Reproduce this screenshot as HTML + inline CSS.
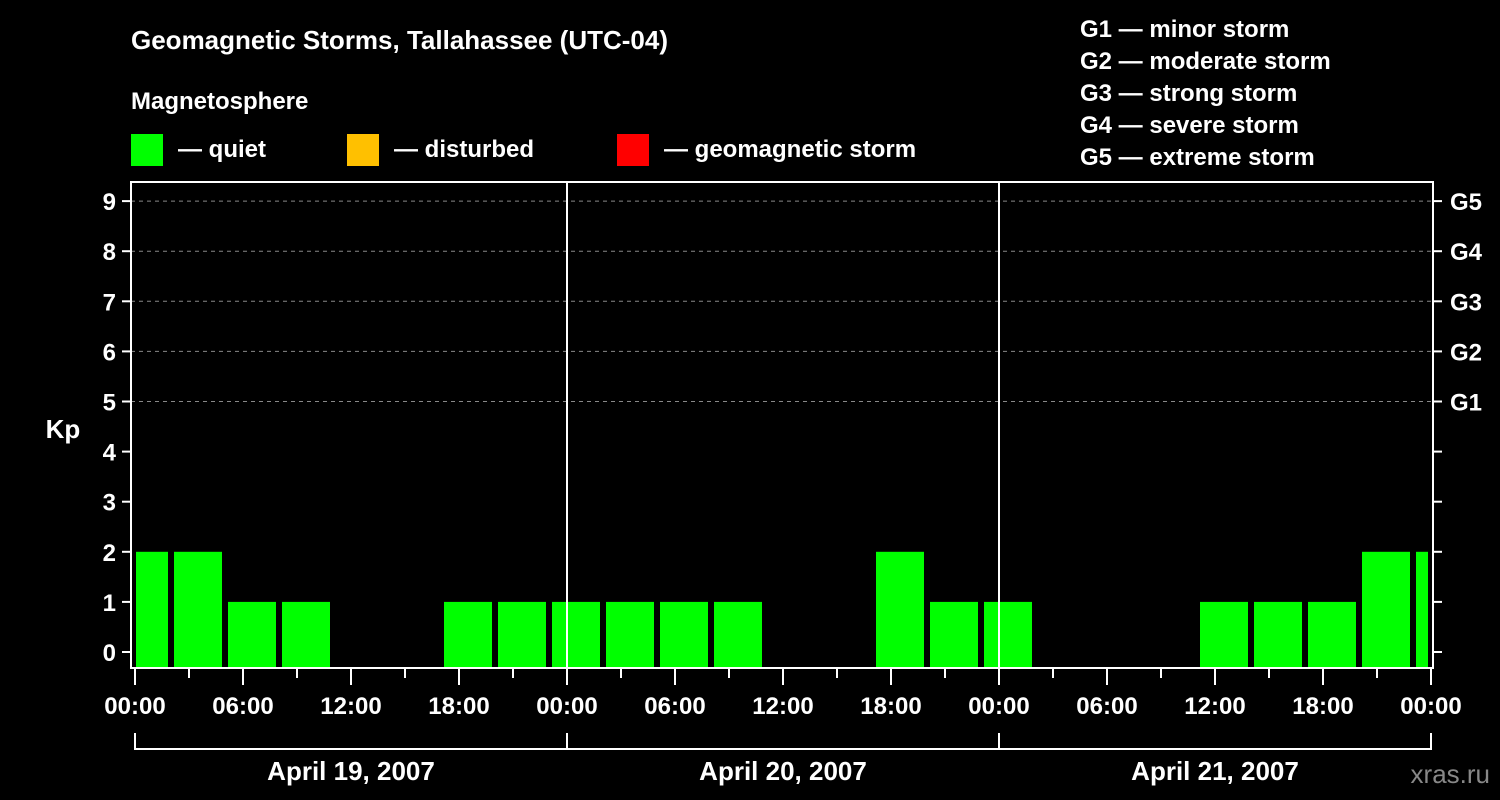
<!DOCTYPE html>
<html><head><meta charset="utf-8"><style>
html,body{margin:0;padding:0;background:#000;}
svg{display:block;font-family:"Liberation Sans",Arial,sans-serif;font-weight:bold;}
</style></head><body>
<svg id="c" width="1500" height="800" viewBox="0 0 1500 800">
<rect width="1500" height="800" fill="#000"/>
<text x="131" y="49" fill="#fff" font-size="26">Geomagnetic Storms, Tallahassee (UTC-04)</text>
<text x="131" y="109" fill="#fff" font-size="24">Magnetosphere</text>
<g><rect x="131" y="134" width="32" height="32" fill="#00ff00"/><text x="178" y="157" fill="#fff" font-size="24">— quiet</text></g>
<g><rect x="347" y="134" width="32" height="32" fill="#ffc000"/><text x="394" y="157" fill="#fff" font-size="24">— disturbed</text></g>
<g><rect x="617" y="134" width="32" height="32" fill="#ff0000"/><text x="664" y="157" fill="#fff" font-size="24">— geomagnetic storm</text></g>
<g fill="#fff" font-size="24">
<text x="1080" y="37">G1 — minor storm</text>
<text x="1080" y="69">G2 — moderate storm</text>
<text x="1080" y="101">G3 — strong storm</text>
<text x="1080" y="133">G4 — severe storm</text>
<text x="1080" y="165">G5 — extreme storm</text>
</g>
<text x="63" y="438" fill="#fff" font-size="26" text-anchor="middle">Kp</text>
<text x="1490" y="783" fill="#888" font-size="26" text-anchor="end" font-weight="normal">xras.ru</text>
<g id="plot"></g>
</svg>
<script>
const kpValues=[2,2,1,1,0,0,1,1,1,1,1,1,0,0,2,1,1,0,0,0,1,1,1,2,2];
const yTicks=[0,1,2,3,4,5,6,7,8,9];
const gLabels=["G1","G2","G3","G4","G5"];
const gLevels=[5,6,7,8,9];
const hourLabels=["00:00","06:00","12:00","18:00"];
const dayLabels=["April 19, 2007","April 20, 2007","April 21, 2007"];
const firstSlotHour=-1; // local hour of first 3h slot start
const NS="http://www.w3.org/2000/svg";
const L=131,R=1433,T=182,B=668,X0=135,DAY=432;
const x=h=>X0+h*DAY/24;
const y=v=>652-v*50.1;
const g=document.getElementById('plot');
function mk(t,a){const e=document.createElementNS(NS,t);for(const k in a)e.setAttribute(k,a[k]);g.appendChild(e);return e;}
// gridlines
gLevels.forEach(v=>{const e=mk('line',{x1:L,x2:R,y1:y(v),y2:y(v),stroke:'#888','stroke-dasharray':'4,4','stroke-width':1});

});
// bars
kpValues.forEach((v,i)=>{if(v<=0)return;const h0=firstSlotHour+i*3;let x1=x(h0)+3,x2=x(h0+3)-3;x1=Math.max(x1,L+5);x2=Math.min(x2,R-5);if(x2<=x1)return;
const col=v>=5?'#ff0000':(v>=4?'#ffc000':'#00ff00');
const e=mk('rect',{x:x1,y:y(v),width:x2-x1,height:B-y(v),fill:col});

});
// day separators
[1,2].forEach(d=>{const e=mk('line',{x1:x(24*d),x2:x(24*d),y1:T,y2:B,stroke:'#fff','stroke-width':2});

});
// frame
const fr=mk('rect',{x:L,y:T,width:R-L,height:B-T,fill:'none',stroke:'#fff','stroke-width':2});


// y ticks
yTicks.forEach(v=>{mk('line',{x1:122,x2:L,y1:y(v),y2:y(v),stroke:'#fff','stroke-width':2});
mk('line',{x1:R,x2:1442,y1:y(v),y2:y(v),stroke:'#fff','stroke-width':2});
const t=mk('text',{x:116,y:y(v)+9,fill:'#fff','font-size':24,'text-anchor':'end'});t.textContent=v;

});
gLabels.forEach((s,i)=>{const t=mk('text',{x:1450,y:y(gLevels[i])+9,fill:'#fff','font-size':24});t.textContent=s;

});
// x ticks
for(let h=0;h<=72;h+=3){const major=h%6===0;mk('line',{x1:x(h),x2:x(h),y1:B,y2:major?685:678,stroke:'#fff','stroke-width':2});
if(major){const t=mk('text',{x:x(h),y:714,fill:'#fff','font-size':24,'text-anchor':'middle'});t.textContent=hourLabels[(h/6)%4];

}}
// day brackets
dayLabels.forEach((s,d)=>{mk('polyline',{points:`${x(24*d)},733 ${x(24*d)},749 ${x(24*d+24)},749 ${x(24*d+24)},733`,fill:'none',stroke:'#fff','stroke-width':2});
const t=mk('text',{x:x(24*d+12),y:780,fill:'#fff','font-size':26,'text-anchor':'middle'});t.textContent=s;

});
</script>
</body></html>
